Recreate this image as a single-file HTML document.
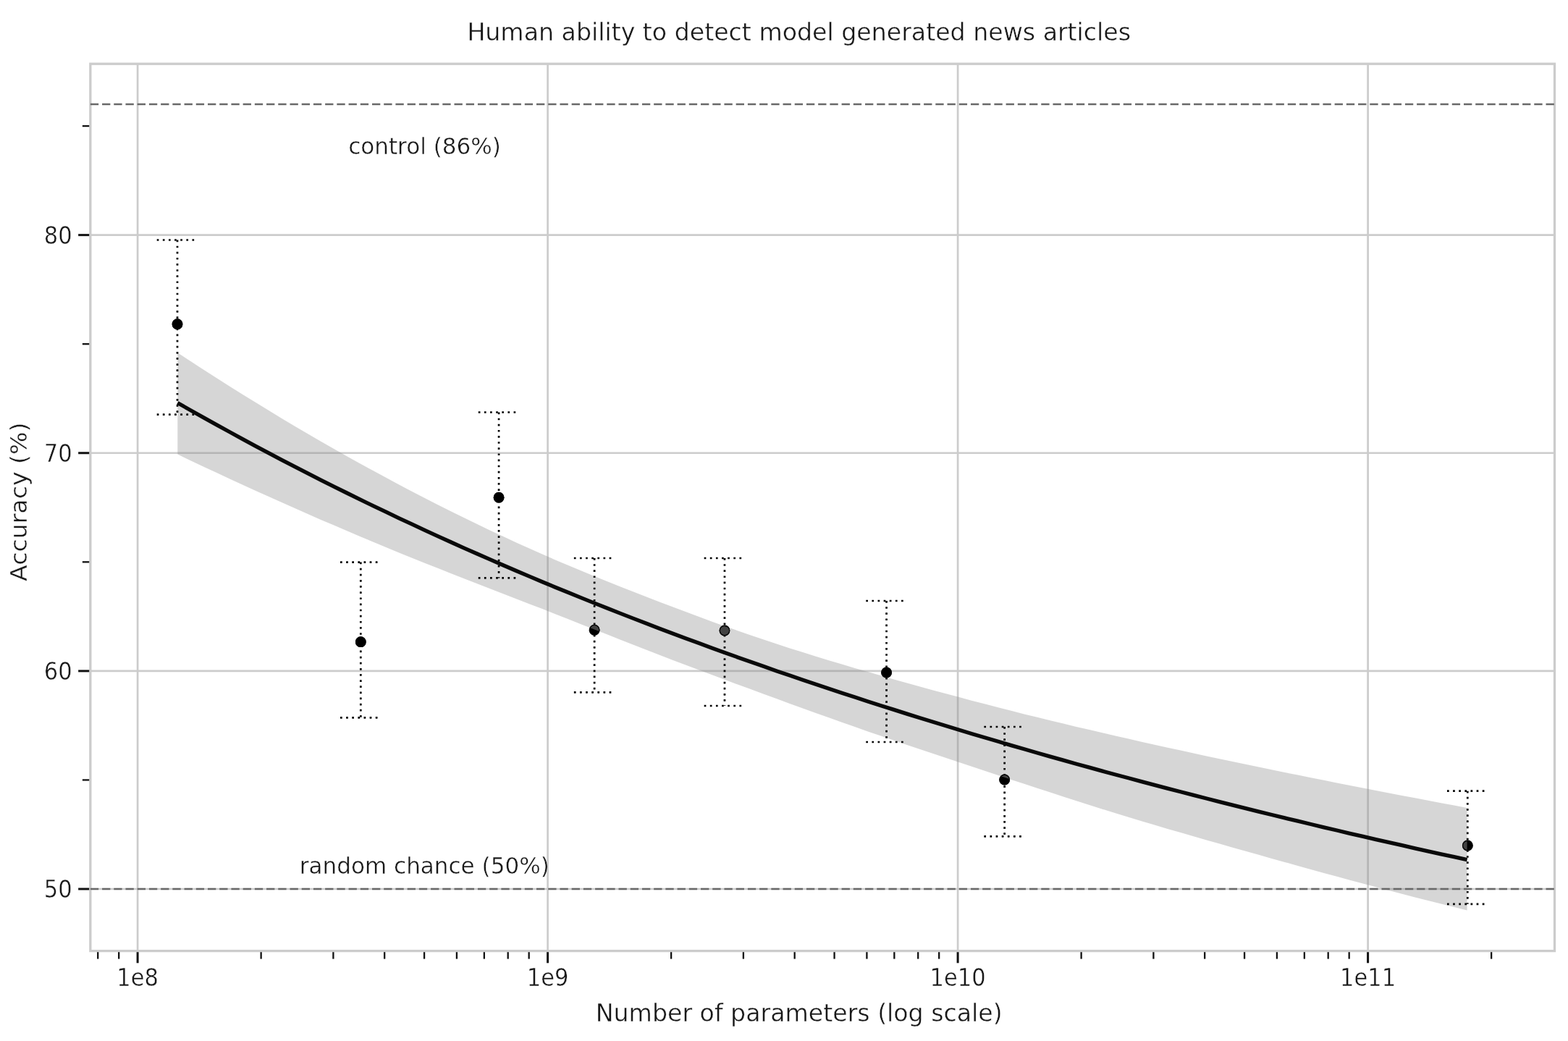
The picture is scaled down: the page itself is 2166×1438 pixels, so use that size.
<!DOCTYPE html>
<html lang="en"><head><meta charset="utf-8"><title>Human ability to detect model generated news articles</title>
<style>html,body{margin:0;padding:0;background:#fff}body{width:2166px;height:1438px;overflow:hidden}svg{display:block}</style>
</head><body>
<svg xmlns="http://www.w3.org/2000/svg" width="2166" height="1438" viewBox="0 0 2166 1438">
<rect width="2166" height="1438" fill="#fff"/>
<g stroke="#cccccc" stroke-width="2.7" fill="none">
<line x1="190.10" y1="88.2" x2="190.10" y2="1313.6"/>
<line x1="756.60" y1="88.2" x2="756.60" y2="1313.6"/>
<line x1="1323.10" y1="88.2" x2="1323.10" y2="1313.6"/>
<line x1="1889.60" y1="88.2" x2="1889.60" y2="1313.6"/>
<line x1="124.84" y1="324.65" x2="2147.5" y2="324.65"/>
<line x1="124.84" y1="625.77" x2="2147.5" y2="625.77"/>
<line x1="124.84" y1="926.89" x2="2147.5" y2="926.89"/>
<line x1="124.84" y1="1228.01" x2="2147.5" y2="1228.01"/>
</g>
<defs>
<polygon id="band" points="245.3,487.3 263.3,499.1 281.3,510.8 299.3,522.3 317.3,533.7 335.3,545.0 353.3,556.1 371.3,567.1 389.2,578.0 407.2,588.7 425.2,599.3 443.2,609.7 461.2,620.0 479.2,630.2 497.2,640.2 515.2,650.1 533.2,659.8 551.2,669.5 569.2,678.9 587.2,688.2 605.2,697.4 623.2,706.5 641.1,715.3 659.1,724.1 677.1,732.7 695.1,741.1 713.1,749.4 731.1,757.6 749.1,765.5 767.1,773.4 785.1,781.0 803.1,788.6 821.1,796.0 839.1,803.3 857.1,810.4 875.1,817.5 893.0,824.5 911.0,831.4 929.0,838.3 947.0,845.1 965.0,851.8 983.0,858.4 1001.0,864.9 1019.0,871.2 1037.0,877.5 1055.0,883.6 1073.0,889.5 1091.0,895.4 1109.0,901.1 1127.0,906.7 1144.9,912.2 1162.9,917.6 1180.9,922.9 1198.9,928.1 1216.9,933.3 1234.9,938.4 1252.9,943.5 1270.9,948.5 1288.9,953.4 1306.9,958.3 1324.9,963.1 1342.9,967.9 1360.9,972.6 1378.9,977.3 1396.8,981.8 1414.8,986.4 1432.8,990.8 1450.8,995.2 1468.8,999.6 1486.8,1003.9 1504.8,1008.1 1522.8,1012.3 1540.8,1016.5 1558.8,1020.6 1576.8,1024.7 1594.8,1028.7 1612.8,1032.7 1630.8,1036.6 1648.7,1040.6 1666.7,1044.4 1684.7,1048.3 1702.7,1052.1 1720.7,1055.8 1738.7,1059.6 1756.7,1063.3 1774.7,1067.0 1792.7,1070.6 1810.7,1074.2 1828.7,1077.8 1846.7,1081.4 1864.7,1084.9 1882.7,1088.5 1900.6,1092.0 1918.6,1095.4 1936.6,1098.9 1954.6,1102.3 1972.6,1105.8 1990.6,1109.2 2008.6,1112.6 2026.6,1115.9 2026.6,1257.4 2008.6,1253.0 1990.6,1248.5 1972.6,1244.0 1954.6,1239.4 1936.6,1234.8 1918.6,1230.1 1900.6,1225.3 1882.7,1220.5 1864.7,1215.7 1846.7,1210.8 1828.7,1205.9 1810.7,1200.9 1792.7,1195.9 1774.7,1190.9 1756.7,1185.9 1738.7,1180.8 1720.7,1175.8 1702.7,1170.7 1684.7,1165.6 1666.7,1160.4 1648.7,1155.3 1630.8,1150.1 1612.8,1144.9 1594.8,1139.6 1576.8,1134.2 1558.8,1128.8 1540.8,1123.3 1522.8,1117.7 1504.8,1112.0 1486.8,1106.2 1468.8,1100.4 1450.8,1094.6 1432.8,1088.7 1414.8,1082.8 1396.8,1076.9 1378.9,1070.9 1360.9,1065.0 1342.9,1059.0 1324.9,1053.1 1306.9,1047.1 1288.9,1041.1 1270.9,1035.0 1252.9,1028.9 1234.9,1022.8 1216.9,1016.6 1198.9,1010.4 1180.9,1004.1 1162.9,997.7 1144.9,991.3 1127.0,984.9 1109.0,978.4 1091.0,971.9 1073.0,965.3 1055.0,958.7 1037.0,952.1 1019.0,945.5 1001.0,938.8 983.0,932.1 965.0,925.3 947.0,918.5 929.0,911.7 911.0,904.8 893.0,897.8 875.1,890.8 857.1,883.7 839.1,876.6 821.1,869.5 803.1,862.4 785.1,855.3 767.1,848.2 749.1,841.1 731.1,834.2 713.1,827.2 695.1,820.2 677.1,813.3 659.1,806.3 641.1,799.3 623.2,792.3 605.2,785.1 587.2,778.0 569.2,770.7 551.2,763.4 533.2,756.0 515.2,748.5 497.2,741.0 479.2,733.3 461.2,725.6 443.2,717.9 425.2,710.0 407.2,702.1 389.2,694.1 371.3,686.1 353.3,677.9 335.3,669.7 317.3,661.4 299.3,653.1 281.3,644.7 263.3,636.2 245.3,627.6"/>
<clipPath id="mk"><circle cx="245.00" cy="447.70" r="7.4"/><circle cx="498.31" cy="886.70" r="7.4"/><circle cx="689.08" cy="687.20" r="7.4"/><circle cx="821.15" cy="870.20" r="7.4"/><circle cx="1000.97" cy="871.00" r="7.4"/><circle cx="1224.57" cy="929.00" r="7.4"/><circle cx="1387.65" cy="1077.00" r="7.4"/><circle cx="2027.28" cy="1168.00" r="7.4"/></clipPath>
</defs>
<use href="#band" fill="#8c8c8c" fill-opacity="0.36"/>
<g stroke="#000" stroke-width="2.7" stroke-dasharray="2.7 5.43" fill="none">
<line x1="245.00" y1="331.50" x2="245.00" y2="572.70"/>
<line x1="216.70" y1="331.50" x2="273.30" y2="331.50"/>
<line x1="216.70" y1="572.70" x2="273.30" y2="572.70"/>
<line x1="498.31" y1="776.60" x2="498.31" y2="991.40"/>
<line x1="470.01" y1="776.60" x2="526.61" y2="776.60"/>
<line x1="470.01" y1="991.40" x2="526.61" y2="991.40"/>
<line x1="689.08" y1="569.50" x2="689.08" y2="798.40"/>
<line x1="660.78" y1="569.50" x2="717.38" y2="569.50"/>
<line x1="660.78" y1="798.40" x2="717.38" y2="798.40"/>
<line x1="821.15" y1="771.00" x2="821.15" y2="956.30"/>
<line x1="792.85" y1="771.00" x2="849.45" y2="771.00"/>
<line x1="792.85" y1="956.30" x2="849.45" y2="956.30"/>
<line x1="1000.97" y1="771.00" x2="1000.97" y2="975.00"/>
<line x1="972.67" y1="771.00" x2="1029.27" y2="771.00"/>
<line x1="972.67" y1="975.00" x2="1029.27" y2="975.00"/>
<line x1="1224.57" y1="830.00" x2="1224.57" y2="1025.00"/>
<line x1="1196.27" y1="830.00" x2="1252.87" y2="830.00"/>
<line x1="1196.27" y1="1025.00" x2="1252.87" y2="1025.00"/>
<line x1="1387.65" y1="1004.00" x2="1387.65" y2="1155.30"/>
<line x1="1359.35" y1="1004.00" x2="1415.95" y2="1004.00"/>
<line x1="1359.35" y1="1155.30" x2="1415.95" y2="1155.30"/>
<line x1="2027.28" y1="1092.70" x2="2027.28" y2="1248.80"/>
<line x1="1998.98" y1="1092.70" x2="2055.58" y2="1092.70"/>
<line x1="1998.98" y1="1248.80" x2="2055.58" y2="1248.80"/>
</g>
<g fill="#000">
<circle cx="245.00" cy="447.70" r="7.40"/>
<circle cx="498.31" cy="886.70" r="7.40"/>
<circle cx="689.08" cy="687.20" r="7.40"/>
<circle cx="821.15" cy="870.20" r="7.40"/>
<circle cx="1000.97" cy="871.00" r="7.40"/>
<circle cx="1224.57" cy="929.00" r="7.40"/>
<circle cx="1387.65" cy="1077.00" r="7.40"/>
<circle cx="2027.28" cy="1168.00" r="7.40"/>
</g>
<use href="#band" fill="#fff" fill-opacity="0.26" clip-path="url(#mk)"/>
<g fill="none" stroke="#050505" stroke-width="1.3">
<circle cx="245.00" cy="447.70" r="6.75"/>
<circle cx="498.31" cy="886.70" r="6.75"/>
<circle cx="689.08" cy="687.20" r="6.75"/>
<circle cx="821.15" cy="870.20" r="6.75"/>
<circle cx="1000.97" cy="871.00" r="6.75"/>
<circle cx="1224.57" cy="929.00" r="6.75"/>
<circle cx="1387.65" cy="1077.00" r="6.75"/>
<circle cx="2027.28" cy="1168.00" r="6.75"/>
</g>
<polyline points="245.3,556.5 263.3,566.7 281.3,576.9 299.3,586.9 317.3,596.8 335.3,606.6 353.3,616.3 371.3,625.9 389.2,635.3 407.2,644.7 425.2,653.9 443.2,663.1 461.2,672.1 479.2,681.0 497.2,689.9 515.2,698.6 533.2,707.2 551.2,715.8 569.2,724.2 587.2,732.6 605.2,740.8 623.2,749.0 641.1,757.1 659.1,765.0 677.1,772.9 695.1,780.7 713.1,788.5 731.1,796.1 749.1,803.7 767.1,811.2 785.1,818.5 803.1,825.9 821.1,833.1 839.1,840.3 857.1,847.4 875.1,854.4 893.0,861.3 911.0,868.2 929.0,875.0 947.0,881.7 965.0,888.3 983.0,894.9 1001.0,901.4 1019.0,907.9 1037.0,914.3 1055.0,920.6 1073.0,926.9 1091.0,933.0 1109.0,939.2 1127.0,945.2 1144.9,951.3 1162.9,957.2 1180.9,963.1 1198.9,968.9 1216.9,974.7 1234.9,980.4 1252.9,986.1 1270.9,991.7 1288.9,997.3 1306.9,1002.8 1324.9,1008.3 1342.9,1013.7 1360.9,1019.0 1378.9,1024.3 1396.8,1029.6 1414.8,1034.8 1432.8,1040.0 1450.8,1045.1 1468.8,1050.1 1486.8,1055.2 1504.8,1060.1 1522.8,1065.1 1540.8,1070.0 1558.8,1074.8 1576.8,1079.6 1594.8,1084.4 1612.8,1089.1 1630.8,1093.8 1648.7,1098.4 1666.7,1103.0 1684.7,1107.6 1702.7,1112.1 1720.7,1116.6 1738.7,1121.1 1756.7,1125.5 1774.7,1129.9 1792.7,1134.2 1810.7,1138.5 1828.7,1142.8 1846.7,1147.0 1864.7,1151.3 1882.7,1155.4 1900.6,1159.6 1918.6,1163.7 1936.6,1167.7 1954.6,1171.8 1972.6,1175.8 1990.6,1179.8 2008.6,1183.7 2026.6,1187.6" fill="none" stroke="#0a0a0a" stroke-width="5.3" stroke-linejoin="round"/>
<g stroke="#111" fill="none">
<line x1="108.14" y1="324.65" x2="124.84" y2="324.65" stroke-width="3.0"/>
<line x1="108.14" y1="625.77" x2="124.84" y2="625.77" stroke-width="3.0"/>
<line x1="108.14" y1="926.89" x2="124.84" y2="926.89" stroke-width="3.0"/>
<line x1="108.14" y1="1228.01" x2="124.84" y2="1228.01" stroke-width="3.0"/>
<line x1="113.84" y1="174.09" x2="124.84" y2="174.09" stroke-width="2.3"/>
<line x1="113.84" y1="475.21" x2="124.84" y2="475.21" stroke-width="2.3"/>
<line x1="113.84" y1="776.33" x2="124.84" y2="776.33" stroke-width="2.3"/>
<line x1="113.84" y1="1077.45" x2="124.84" y2="1077.45" stroke-width="2.3"/>
<line x1="190.10" y1="1313.6" x2="190.10" y2="1330.30" stroke-width="3.0"/>
<line x1="756.60" y1="1313.6" x2="756.60" y2="1330.30" stroke-width="3.0"/>
<line x1="1323.10" y1="1313.6" x2="1323.10" y2="1330.30" stroke-width="3.0"/>
<line x1="1889.60" y1="1313.6" x2="1889.60" y2="1330.30" stroke-width="3.0"/>
<line x1="135.20" y1="1313.6" x2="135.20" y2="1324.60" stroke-width="2.3"/>
<line x1="164.18" y1="1313.6" x2="164.18" y2="1324.60" stroke-width="2.3"/>
<line x1="360.63" y1="1313.6" x2="360.63" y2="1324.60" stroke-width="2.3"/>
<line x1="460.39" y1="1313.6" x2="460.39" y2="1324.60" stroke-width="2.3"/>
<line x1="531.17" y1="1313.6" x2="531.17" y2="1324.60" stroke-width="2.3"/>
<line x1="586.07" y1="1313.6" x2="586.07" y2="1324.60" stroke-width="2.3"/>
<line x1="630.92" y1="1313.6" x2="630.92" y2="1324.60" stroke-width="2.3"/>
<line x1="668.85" y1="1313.6" x2="668.85" y2="1324.60" stroke-width="2.3"/>
<line x1="701.70" y1="1313.6" x2="701.70" y2="1324.60" stroke-width="2.3"/>
<line x1="730.68" y1="1313.6" x2="730.68" y2="1324.60" stroke-width="2.3"/>
<line x1="927.13" y1="1313.6" x2="927.13" y2="1324.60" stroke-width="2.3"/>
<line x1="1026.89" y1="1313.6" x2="1026.89" y2="1324.60" stroke-width="2.3"/>
<line x1="1097.67" y1="1313.6" x2="1097.67" y2="1324.60" stroke-width="2.3"/>
<line x1="1152.57" y1="1313.6" x2="1152.57" y2="1324.60" stroke-width="2.3"/>
<line x1="1197.42" y1="1313.6" x2="1197.42" y2="1324.60" stroke-width="2.3"/>
<line x1="1235.35" y1="1313.6" x2="1235.35" y2="1324.60" stroke-width="2.3"/>
<line x1="1268.20" y1="1313.6" x2="1268.20" y2="1324.60" stroke-width="2.3"/>
<line x1="1297.18" y1="1313.6" x2="1297.18" y2="1324.60" stroke-width="2.3"/>
<line x1="1493.63" y1="1313.6" x2="1493.63" y2="1324.60" stroke-width="2.3"/>
<line x1="1593.39" y1="1313.6" x2="1593.39" y2="1324.60" stroke-width="2.3"/>
<line x1="1664.17" y1="1313.6" x2="1664.17" y2="1324.60" stroke-width="2.3"/>
<line x1="1719.07" y1="1313.6" x2="1719.07" y2="1324.60" stroke-width="2.3"/>
<line x1="1763.92" y1="1313.6" x2="1763.92" y2="1324.60" stroke-width="2.3"/>
<line x1="1801.85" y1="1313.6" x2="1801.85" y2="1324.60" stroke-width="2.3"/>
<line x1="1834.70" y1="1313.6" x2="1834.70" y2="1324.60" stroke-width="2.3"/>
<line x1="1863.68" y1="1313.6" x2="1863.68" y2="1324.60" stroke-width="2.3"/>
<line x1="2060.13" y1="1313.6" x2="2060.13" y2="1324.60" stroke-width="2.3"/>
</g>
<rect x="124.84" y="88.2" width="2022.66" height="1225.3999999999999" fill="none" stroke="#cccccc" stroke-width="3.3"/>
<g stroke="#686868" stroke-width="2.5" stroke-dasharray="11.32 4.895" fill="none">
<line x1="124.84" y1="143.98" x2="2147.5" y2="143.98"/>
<line x1="124.84" y1="1228.01" x2="2147.5" y2="1228.01"/>
</g>
<g font-family="'DejaVu Sans', 'Liberation Sans', sans-serif" fill="#181818" stroke="#fff" stroke-width="0.4">
<text transform="translate(99.60,336.75) scale(1,1.078)" font-size="30.5" text-anchor="end">80</text>
<text transform="translate(99.60,637.87) scale(1,1.078)" font-size="30.5" text-anchor="end">70</text>
<text transform="translate(99.60,938.99) scale(1,1.078)" font-size="30.5" text-anchor="end">60</text>
<text transform="translate(99.60,1240.11) scale(1,1.078)" font-size="30.5" text-anchor="end">50</text>
<text transform="translate(190.10,1361.9) scale(1,1.078)" font-size="30.5" text-anchor="middle">1e8</text>
<text transform="translate(756.60,1361.9) scale(1,1.078)" font-size="30.5" text-anchor="middle">1e9</text>
<text transform="translate(1323.10,1361.9) scale(1,1.078)" font-size="30.5" text-anchor="middle">1e10</text>
<text transform="translate(1889.60,1361.9) scale(1,1.078)" font-size="30.5" text-anchor="middle">1e11</text>
<text transform="translate(1103.7,55.8) scale(1,1.02)" font-size="33.2" text-anchor="middle">Human ability to detect model generated news articles</text>
<text transform="translate(1103.7,1410.6) scale(1,1.02)" font-size="33.2" text-anchor="middle">Number of parameters (log scale)</text>
<text transform="translate(37,693.2) rotate(-90) scale(1,0.96)" font-size="33.2" text-anchor="middle">Accuracy (%)</text>
<text transform="translate(586.5,213.0) scale(1,1.0)" font-size="31.05" text-anchor="middle">control (86%)</text>
<text transform="translate(586.3,1206.8) scale(1,1.0)" font-size="31.05" text-anchor="middle">random chance (50%)</text>
</g>
</svg>
</body></html>
